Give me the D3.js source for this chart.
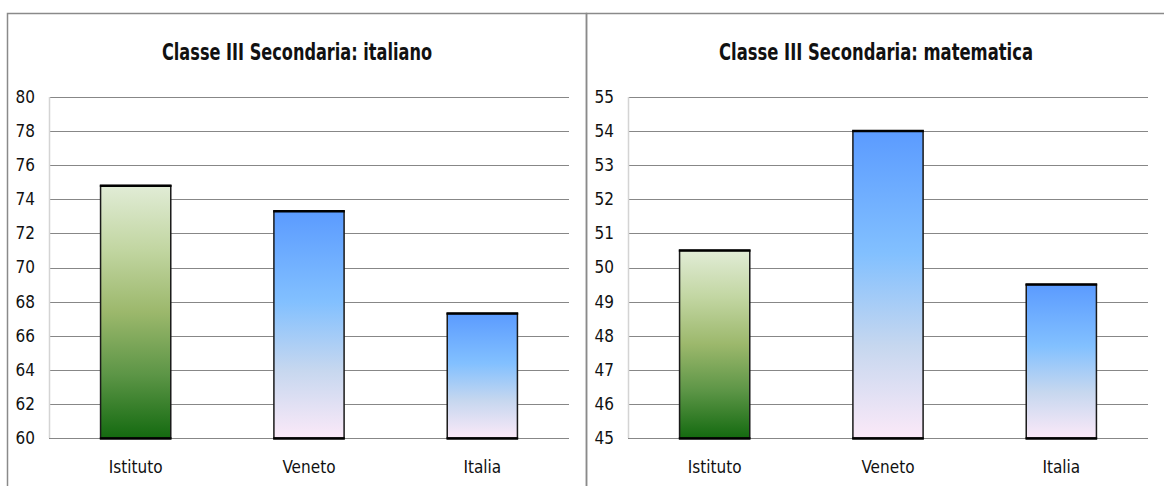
<!DOCTYPE html>
<html>
<head>
<meta charset="utf-8">
<script src="https://cdn.jsdelivr.net/npm/d3@7"></script>
<style>
  body { margin: 0; background: #fff; }
  svg { display: block; }
  .tick-label, .cat-label { font-family: "DejaVu Sans", sans-serif; font-stretch: condensed; font-size: 17px; fill: #111; }
  .chart-title { font-family: "DejaVu Sans", sans-serif; font-stretch: condensed; font-size: 23px; font-weight: bold; fill: #111; }
</style>
</head>
<body>
<svg id="chart" width="1164" height="486"></svg>
<script>
// categories shared by both panels
const categories = ['Istituto', 'Veneto', 'Italia'];

// italiano panel
const italianoTitle = 'Classe III Secondaria: italiano';
const italianoValues = [74.8, 73.3, 67.3];
const italianoTicks = [60, 62, 64, 66, 68, 70, 72, 74, 76, 78, 80];

// matematica panel
const matematicaTitle = 'Classe III Secondaria: matematica';
const matematicaValues = [50.5, 54.0, 49.5];
const matematicaTicks = [45, 46, 47, 48, 49, 50, 51, 52, 53, 54, 55];

// bar fill per category: green for the school, blue for the references
const barFills = ['green', 'blue', 'blue'];

const svg = d3.select('#chart');
const defs = svg.append('defs');

function addGradient(id, stops) {
  const grad = defs.append('linearGradient')
    .attr('id', id)
    .attr('x1', 0).attr('y1', 0)
    .attr('x2', 0).attr('y2', 1);
  stops.forEach(s => {
    grad.append('stop').attr('offset', s[0]).attr('stop-color', s[1]);
  });
}

addGradient('green', [[0, '#e1ecd6'], [0.25, '#c2d6a2'], [0.5, '#9cb86c'], [0.75, '#5c9546'], [1, '#146a10']]);
addGradient('blue', [[0, '#5b9bff'], [0.4, '#82c0ff'], [0.7, '#c6d7ef'], [1, '#fbe9f8']]);

// outer frames
svg.append('rect')
  .attr('x', 7.5).attr('y', 13.5)
  .attr('width', 579).attr('height', 500)
  .attr('fill', 'none')
  .attr('stroke', '#8a8a8a')
  .attr('stroke-width', 1.5);

svg.append('path')
  .attr('d', 'M586.5,500V13.5H1170')
  .attr('fill', 'none')
  .attr('stroke', '#8a8a8a')
  .attr('stroke-width', 1.5);

drawPanel({
  title: italianoTitle, values: italianoValues, ticks: italianoTicks,
  left: 49, right: 569, titleX: 297, titleWidth: 270
});

drawPanel({
  title: matematicaTitle, values: matematicaValues, ticks: matematicaTicks,
  left: 628, right: 1148, titleX: 876, titleWidth: 314
});

function drawPanel(cfg) {
  const top = 97, bottom = 438;
  const g = svg.append('g');

  const x = d3.scaleBand()
    .domain(categories)
    .range([cfg.left, cfg.right])
    .paddingInner(0.595)
    .paddingOuter(0.2975);

  const y = d3.scaleLinear()
    .domain(d3.extent(cfg.ticks))
    .range([bottom, top]);

  // title squeezed to the narrow width of the original face
  g.append('text')
    .attr('class', 'chart-title')
    .attr('x', cfg.titleX)
    .attr('y', 60)
    .attr('text-anchor', 'middle')
    .attr('textLength', cfg.titleWidth)
    .attr('lengthAdjust', 'spacingAndGlyphs')
    .text(cfg.title);

  // gridlines
  g.append('g')
    .selectAll('line')
    .data(cfg.ticks)
    .join('line')
    .attr('x1', cfg.left)
    .attr('x2', cfg.right)
    .attr('y1', d => Math.round(y(d)) + 0.5)
    .attr('y2', d => Math.round(y(d)) + 0.5)
    .attr('stroke', '#878787')
    .attr('stroke-width', 1);

  // vertical axis line
  g.append('line')
    .attr('x1', cfg.left + 0.5).attr('x2', cfg.left + 0.5)
    .attr('y1', top).attr('y2', bottom)
    .attr('stroke', '#d4d4d4')
    .attr('stroke-width', 1.5);

  // tick labels
  g.append('g')
    .selectAll('text')
    .data(cfg.ticks)
    .join('text')
    .attr('class', 'tick-label')
    .attr('x', cfg.left - 14)
    .attr('y', d => y(d))
    .attr('dy', '0.35em')
    .attr('text-anchor', 'end')
    .text(d => d);

  const bars = g.append('g')
    .selectAll('g')
    .data(cfg.values.map((v, i) => ({ cat: categories[i], value: v, fill: barFills[i] })))
    .join('g');

  bars.append('rect')
    .attr('x', d => x(d.cat))
    .attr('y', d => y(d.value))
    .attr('width', x.bandwidth())
    .attr('height', d => bottom - y(d.value))
    .attr('fill', d => `url(#${d.fill})`)
    .attr('stroke', '#1a1a1a')
    .attr('stroke-width', 1.5);

  // heavy top and bottom edges
  bars.append('line')
    .attr('x1', d => x(d.cat) - 0.75)
    .attr('x2', d => x(d.cat) + x.bandwidth() + 0.75)
    .attr('y1', d => y(d.value))
    .attr('y2', d => y(d.value))
    .attr('stroke', '#000')
    .attr('stroke-width', 2.5);

  bars.append('line')
    .attr('x1', d => x(d.cat) - 0.75)
    .attr('x2', d => x(d.cat) + x.bandwidth() + 0.75)
    .attr('y1', bottom + 0.5)
    .attr('y2', bottom + 0.5)
    .attr('stroke', '#000')
    .attr('stroke-width', 2.5);

  // category labels
  g.append('g')
    .selectAll('text')
    .data(categories)
    .join('text')
    .attr('class', 'cat-label')
    .attr('x', d => x(d) + x.bandwidth() / 2)
    .attr('y', 467)
    .attr('dy', '0.35em')
    .attr('text-anchor', 'middle')
    .text(d => d);
}
</script>
</body>
</html>
